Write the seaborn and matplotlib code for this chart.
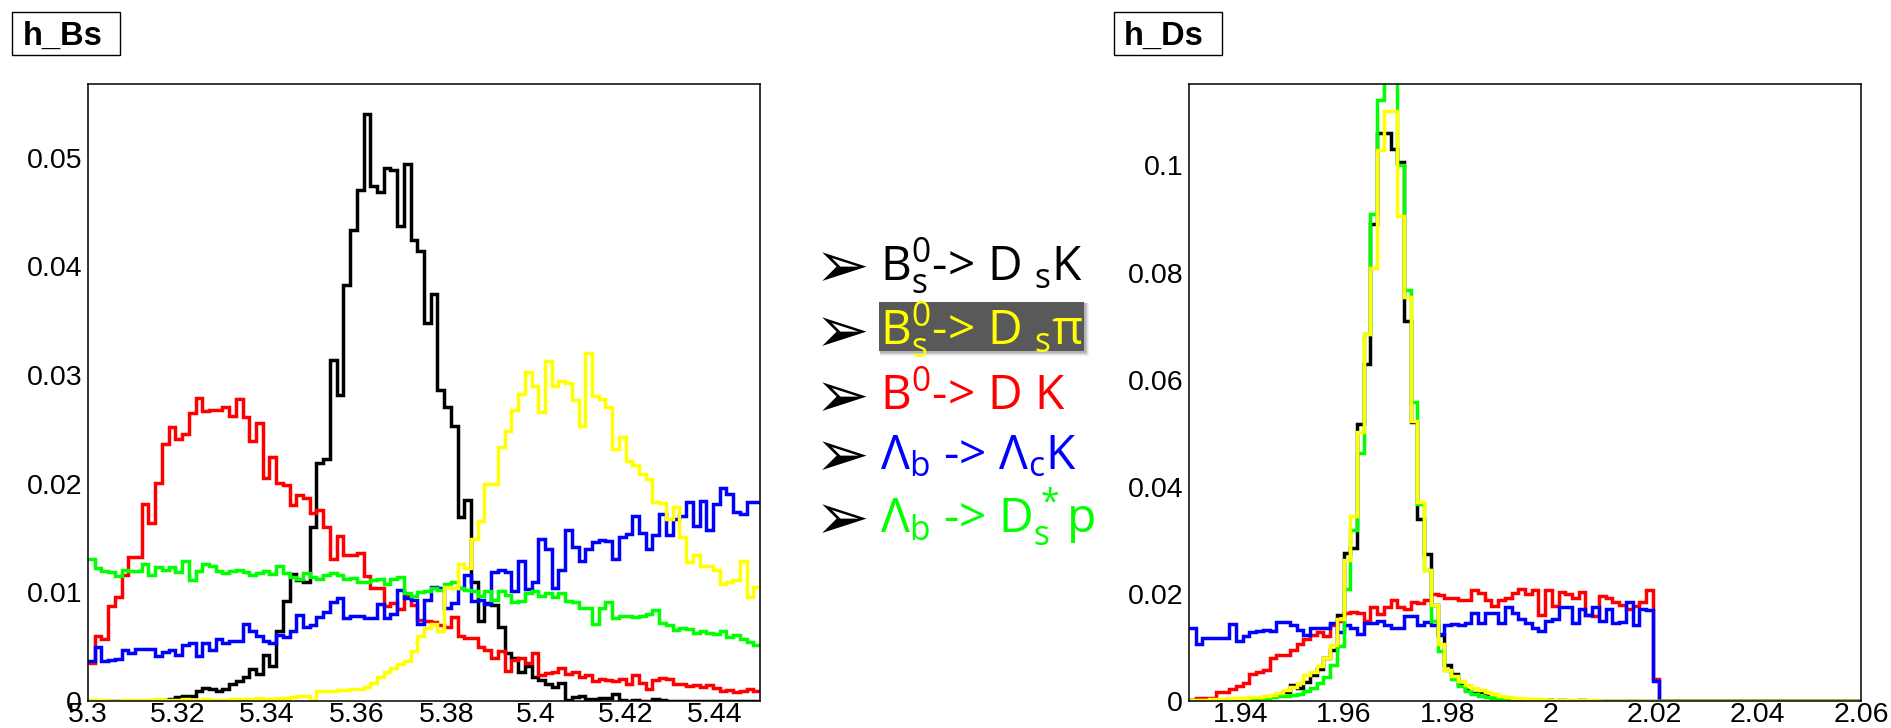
import numpy as np
import matplotlib
matplotlib.use("Agg")
import matplotlib.pyplot as plt
import seaborn as sns
from matplotlib.ticker import FixedLocator, MultipleLocator, FuncFormatter
from matplotlib.patches import Rectangle

# ---------------------------------------------------------------- data
# h_Bs : reconstructed B_s mass, 100 bins on [5.30, 5.45], unit-normalised
bs_range = (5.30, 5.45)
bs_nbins = 100

bs_dsk = [0, 0, 0, 0, 0, 0, 0, 0, 0, 0,
          0.0001, 0.0001, 0.0002, 0.0004, 0.0005, 0.0005, 0.0009, 0.0012, 0.0011, 0.0009,
          0.0011, 0.0016, 0.0018, 0.0022, 0.0029, 0.0025, 0.0042, 0.0032, 0.0064, 0.0092,
          0.0117, 0.0111, 0.0110, 0.0160, 0.0219, 0.0223, 0.0314, 0.0282, 0.0383, 0.0434,
          0.0470, 0.0540, 0.0474, 0.0469, 0.0491, 0.0489, 0.0437, 0.0494, 0.0424, 0.0414,
          0.0348, 0.0375, 0.0286, 0.0271, 0.0253, 0.0169, 0.0185, 0.0110, 0.0074, 0.0090,
          0.0088, 0.0068, 0.0044, 0.0040, 0.0027, 0.0032, 0.0022, 0.0019, 0.0016, 0.0013,
          0.0017, 0.0001, 0.0004, 0.0005, 0.0002, 0.0002, 0.0003, 0.0003, 0.0006, 0.0001,
          0, 0.0001, 0, 0, 0.0002, 0.0001, 0, 0, 0, 0,
          0, 0, 0, 0, 0, 0, 0, 0, 0, 0]

bs_dspi = [0.0001, 0.0001, 0.0001, 0, 0, 0.0001, 0.0001, 0.0001, 0.0001, 0.0001,
           0.0002, 0.0001, 0.0001, 0.0001, 0.0002, 0.0001, 0.0001, 0.0002, 0.0001, 0.0001,
           0.0001, 0.0002, 0.0002, 0.0002, 0.0002, 0.0003, 0.0002, 0.0002, 0.0003, 0.0003,
           0.0004, 0.0005, 0.0005, 0.0001, 0.0009, 0.0009, 0.0009, 0.0010, 0.0010, 0.0011,
           0.0011, 0.0013, 0.0017, 0.0022, 0.0027, 0.0030, 0.0034, 0.0037, 0.0046, 0.0060,
           0.0067, 0.0071, 0.0064, 0.0105, 0.0104, 0.0126, 0.0122, 0.0149, 0.0166, 0.0200,
           0.0200, 0.0234, 0.0249, 0.0268, 0.0283, 0.0303, 0.0290, 0.0266, 0.0313, 0.0290,
           0.0295, 0.0293, 0.0277, 0.0253, 0.0320, 0.0281, 0.0278, 0.0271, 0.0232, 0.0243,
           0.0221, 0.0217, 0.0209, 0.0204, 0.0183, 0.0182, 0.0168, 0.0179, 0.0151, 0.0128,
           0.0134, 0.0124, 0.0124, 0.0121, 0.0108, 0.0110, 0.0111, 0.0129, 0.0096, 0.0105]

bs_b0dk = [0.0035, 0.0060, 0.0057, 0.0087, 0.0096, 0.0116, 0.0133, 0.0133, 0.0181, 0.0164,
           0.0201, 0.0237, 0.0252, 0.0241, 0.0246, 0.0265, 0.0279, 0.0267, 0.0268, 0.0268,
           0.0271, 0.0262, 0.0278, 0.0261, 0.0239, 0.0256, 0.0205, 0.0225, 0.0201, 0.0199,
           0.0180, 0.0190, 0.0187, 0.0173, 0.0176, 0.0160, 0.0131, 0.0152, 0.0134, 0.0134,
           0.0136, 0.0115, 0.0104, 0.0104, 0.0087, 0.0090, 0.0085, 0.0097, 0.0088, 0.0075,
           0.0074, 0.0073, 0.0070, 0.0068, 0.0077, 0.0060, 0.0058, 0.0058, 0.0050, 0.0047,
           0.0040, 0.0046, 0.0028, 0.0038, 0.0040, 0.0035, 0.0044, 0.0024, 0.0026, 0.0027,
           0.0030, 0.0025, 0.0027, 0.0022, 0.0024, 0.0018, 0.0020, 0.0019, 0.0018, 0.0020,
           0.0016, 0.0024, 0.0017, 0.0011, 0.0019, 0.0021, 0.0020, 0.0016, 0.0016, 0.0014,
           0.0015, 0.0013, 0.0015, 0.0012, 0.0009, 0.0010, 0.0008, 0.0009, 0.0011, 0.0009]

bs_lbk = [0.0037, 0.0050, 0.0037, 0.0038, 0.0039, 0.0047, 0.0044, 0.0048, 0.0048, 0.0048,
          0.0041, 0.0045, 0.0047, 0.0042, 0.0052, 0.0053, 0.0041, 0.0053, 0.0047, 0.0057,
          0.0053, 0.0055, 0.0055, 0.0071, 0.0064, 0.0060, 0.0055, 0.0053, 0.0061, 0.0059,
          0.0064, 0.0079, 0.0068, 0.0070, 0.0077, 0.0082, 0.0091, 0.0095, 0.0076, 0.0078,
          0.0078, 0.0076, 0.0076, 0.0089, 0.0076, 0.0080, 0.0102, 0.0095, 0.0093, 0.0071,
          0.0093, 0.0105, 0.0104, 0.0086, 0.0090, 0.0104, 0.0116, 0.0092, 0.0093, 0.0089,
          0.0119, 0.0121, 0.0119, 0.0101, 0.0129, 0.0103, 0.0110, 0.0149, 0.0140, 0.0104,
          0.0121, 0.0157, 0.0142, 0.0129, 0.0140, 0.0146, 0.0148, 0.0147, 0.0131, 0.0151,
          0.0154, 0.0170, 0.0155, 0.0140, 0.0153, 0.0172, 0.0153, 0.0168, 0.0170, 0.0183,
          0.0161, 0.0184, 0.0157, 0.0181, 0.0196, 0.0191, 0.0174, 0.0172, 0.0183, 0.0183]

bs_lbdsp = [0.0131, 0.0122, 0.0120, 0.0119, 0.0115, 0.0121, 0.0120, 0.0120, 0.0126, 0.0116,
            0.0123, 0.0121, 0.0123, 0.0119, 0.0129, 0.0111, 0.0120, 0.0126, 0.0124, 0.0120,
            0.0118, 0.0120, 0.0121, 0.0119, 0.0116, 0.0118, 0.0120, 0.0117, 0.0124, 0.0118,
            0.0114, 0.0112, 0.0118, 0.0114, 0.0112, 0.0116, 0.0118, 0.0116, 0.0112, 0.0113,
            0.0110, 0.0110, 0.0111, 0.0112, 0.0108, 0.0112, 0.0114, 0.0099, 0.0097, 0.0100,
            0.0101, 0.0104, 0.0102, 0.0108, 0.0110, 0.0104, 0.0102, 0.0101, 0.0097, 0.0101,
            0.0093, 0.0101, 0.0098, 0.0091, 0.0092, 0.0099, 0.0101, 0.0097, 0.0099, 0.0096,
            0.0099, 0.0092, 0.0091, 0.0086, 0.0086, 0.0071, 0.0086, 0.0091, 0.0076, 0.0078,
            0.0078, 0.0077, 0.0078, 0.0080, 0.0084, 0.0072, 0.0070, 0.0065, 0.0067, 0.0066,
            0.0063, 0.0064, 0.0063, 0.0062, 0.0064, 0.0059, 0.0061, 0.0057, 0.0054, 0.0052]

# h_Ds : reconstructed D_s mass, 100 bins on [1.93, 2.06], unit-normalised
ds_range = (1.93, 2.06)
ds_nbins = 100

ds_dsk = [0.0001, 0.0001, 0.0001, 0.0001, 0.0001, 0.0002, 0.0002, 0.0003, 0.0004, 0.0005,
          0.0006, 0.0008, 0.0010, 0.0013, 0.0016, 0.0030, 0.0025, 0.0035, 0.0049, 0.0059,
          0.0080, 0.0095, 0.0160, 0.0276, 0.0285, 0.0517, 0.0630, 0.0890, 0.1060, 0.1060,
          0.1030, 0.1006, 0.0710, 0.0520, 0.0340, 0.0275, 0.0180, 0.0123, 0.0067, 0.0050,
          0.0030, 0.0020, 0.0015, 0.0017, 0.0010, 0.0006, 0.0004, 0.0003, 0.0002, 0.0002,
          0.0001, 0.0001, 0.0001, 0.0001, 0, 0.0001, 0, 0, 0.0001, 0,
          0, 0, 0, 0, 0, 0, 0, 0, 0, 0,
          0, 0, 0, 0, 0, 0, 0, 0, 0, 0,
          0, 0, 0, 0, 0, 0, 0, 0, 0, 0,
          0, 0, 0, 0, 0, 0, 0, 0, 0, 0]

ds_dspi = [0.0002, 0.0002, 0.0002, 0.0003, 0.0003, 0.0004, 0.0005, 0.0005, 0.0006, 0.0007,
           0.0008, 0.0010, 0.0012, 0.0015, 0.0020, 0.0026, 0.0034, 0.0049, 0.0055, 0.0065,
           0.0080, 0.0105, 0.0154, 0.0263, 0.0345, 0.0502, 0.0686, 0.0808, 0.1028, 0.1102,
           0.1102, 0.0906, 0.0754, 0.0523, 0.0371, 0.0245, 0.0180, 0.0106, 0.0058, 0.0046,
           0.0037, 0.0030, 0.0024, 0.0020, 0.0016, 0.0013, 0.0010, 0.0008, 0.0006, 0.0005,
           0.0004, 0.0003, 0.0003, 0.0002, 0.0002, 0.0002, 0.0001, 0.0001, 0.0001, 0.0001,
           0.0001, 0, 0, 0, 0, 0, 0, 0, 0, 0,
           0, 0, 0, 0, 0, 0, 0, 0, 0, 0,
           0, 0, 0, 0, 0, 0, 0, 0, 0, 0,
           0, 0, 0, 0, 0, 0, 0, 0, 0, 0]

ds_b0dk = [0.0002, 0.0006, 0.0005, 0.0005, 0.0017, 0.0017, 0.0022, 0.0028, 0.0034, 0.0050,
           0.0054, 0.0058, 0.0080, 0.0086, 0.0086, 0.0095, 0.0106, 0.0115, 0.0123, 0.0128,
           0.0121, 0.0141, 0.0150, 0.0164, 0.0167, 0.0165, 0.0150, 0.0176, 0.0163, 0.0176,
           0.0189, 0.0176, 0.0171, 0.0184, 0.0183, 0.0189, 0.0199, 0.0197, 0.0193, 0.0193,
           0.0189, 0.0189, 0.0208, 0.0202, 0.0189, 0.0178, 0.0189, 0.0193, 0.0202, 0.0210,
           0.0199, 0.0208, 0.0161, 0.0208, 0.0178, 0.0204, 0.0199, 0.0193, 0.0204, 0.0161,
           0.0158, 0.0196, 0.0193, 0.0184, 0.0180, 0.0171, 0.0178, 0.0184, 0.0208, 0.0041,
           0, 0, 0, 0, 0, 0, 0, 0, 0, 0,
           0, 0, 0, 0, 0, 0, 0, 0, 0, 0,
           0, 0, 0, 0, 0, 0, 0, 0, 0, 0]

ds_lbk = [0.0137, 0.0106, 0.0117, 0.0117, 0.0117, 0.0117, 0.0143, 0.0112, 0.0122, 0.0128,
          0.0130, 0.0132, 0.0130, 0.0147, 0.0147, 0.0141, 0.0132, 0.0123, 0.0137, 0.0137,
          0.0137, 0.0145, 0.0128, 0.0141, 0.0137, 0.0126, 0.0145, 0.0145, 0.0150, 0.0141,
          0.0137, 0.0137, 0.0158, 0.0158, 0.0141, 0.0147, 0.0141, 0.0126, 0.0141, 0.0143,
          0.0141, 0.0145, 0.0164, 0.0145, 0.0164, 0.0164, 0.0145, 0.0176, 0.0164, 0.0154,
          0.0145, 0.0137, 0.0130, 0.0150, 0.0154, 0.0176, 0.0176, 0.0145, 0.0171, 0.0160,
          0.0176, 0.0150, 0.0171, 0.0145, 0.0147, 0.0184, 0.0141, 0.0171, 0.0170, 0.0037,
          0, 0, 0, 0, 0, 0, 0, 0, 0, 0,
          0, 0, 0, 0, 0, 0, 0, 0, 0, 0,
          0, 0, 0, 0, 0, 0, 0, 0, 0, 0]

ds_lbdsp = [0.0001, 0.0001, 0.0001, 0.0001, 0.0002, 0.0002, 0.0002, 0.0003, 0.0003, 0.0004,
            0.0005, 0.0006, 0.0008, 0.0009, 0.0010, 0.0012, 0.0014, 0.0019, 0.0025, 0.0034,
            0.0045, 0.0067, 0.0102, 0.0210, 0.0320, 0.0463, 0.0686, 0.0910, 0.1123, 0.1300,
            0.1250, 0.1000, 0.0767, 0.0558, 0.0367, 0.0245, 0.0150, 0.0093, 0.0058, 0.0041,
            0.0028, 0.0019, 0.0013, 0.0010, 0.0008, 0.0006, 0.0004, 0.0003, 0.0002, 0.0002,
            0.0001, 0.0001, 0.0001, 0.0001, 0, 0, 0, 0, 0, 0,
            0, 0, 0, 0, 0, 0, 0, 0, 0, 0,
            0, 0, 0, 0, 0, 0, 0, 0, 0, 0,
            0, 0, 0, 0, 0, 0, 0, 0, 0, 0,
            0, 0, 0, 0, 0, 0, 0, 0, 0, 0]

# ---------------------------------------------------------------- style
sns.set_style("white")
plt.rcParams["font.family"] = ["Liberation Sans", "DejaVu Sans"]
plt.rcParams["mathtext.fontset"] = "custom"
plt.rcParams["mathtext.rm"] = "Open Sans"
plt.rcParams["mathtext.it"] = "Open Sans"
plt.rcParams["mathtext.bf"] = "Open Sans:bold"
plt.rcParams["mathtext.sf"] = "Open Sans"

W, H = 1891, 728
fig = plt.figure(figsize=(W / 100, H / 100), dpi=100)
fig.patch.set_facecolor("white")


def fx(px):
    return px / W


def fy(py):
    return 1 - py / H


# drawing order: later series sit on top
channels = [
    ("black", bs_dsk, ds_dsk),
    ("#ff0000", bs_b0dk, ds_b0dk),
    ("#0000ff", bs_lbk, ds_lbk),
    ("#00ff00", bs_lbdsp, ds_lbdsp),
    ("#ffff00", bs_dspi, ds_dspi),
]

ax_bs = fig.add_axes([fx(88), fy(701), (760 - 88) / W, (701 - 84) / H])
ax_ds = fig.add_axes([fx(1189), fy(701), (1861 - 1189) / W, (701 - 84) / H])

bs_edges = np.linspace(bs_range[0], bs_range[1], bs_nbins + 1)
ds_edges = np.linspace(ds_range[0], ds_range[1], ds_nbins + 1)
bs_centers = 0.5 * (bs_edges[:-1] + bs_edges[1:])
ds_centers = 0.5 * (ds_edges[:-1] + ds_edges[1:])

for color, bs_vals, ds_vals in channels:
    sns.histplot(x=bs_centers, weights=np.asarray(bs_vals), bins=list(bs_edges),
                 element="step", fill=False, color=color, linewidth=2.5, ax=ax_bs,
                 solid_joinstyle="miter")
    sns.histplot(x=ds_centers, weights=np.asarray(ds_vals), bins=list(ds_edges),
                 element="step", fill=False, color=color, linewidth=2.5, ax=ax_ds,
                 solid_joinstyle="miter")

fmt = FuncFormatter(lambda v, pos: "%g" % round(v, 4))


def frame(ax, xlim, ylim, xmajor, xminor, ymajor, yminor):
    ax.set_xlim(*xlim)
    ax.set_ylim(*ylim)
    ax.set_xlabel("")
    ax.set_ylabel("")
    ax.xaxis.set_major_locator(FixedLocator(xmajor))
    ax.xaxis.set_minor_locator(MultipleLocator(xminor))
    ax.yaxis.set_major_locator(MultipleLocator(ymajor))
    ax.yaxis.set_minor_locator(MultipleLocator(yminor))
    ax.xaxis.set_major_formatter(fmt)
    ax.yaxis.set_major_formatter(fmt)
    ax.tick_params(which="both", direction="in", top=False, right=False,
                   width=1.0, color="black", labelsize=20.5, labelcolor="black")
    ax.tick_params(which="major", length=14)
    ax.tick_params(which="minor", length=7)
    ax.tick_params(axis="x", pad=0.5)
    ax.tick_params(axis="y", pad=4.3)
    for s in ax.spines.values():
        s.set_visible(True)
        s.set_color("black")
        s.set_linewidth(1.1)
    ax.set_facecolor("white")


frame(ax_bs, bs_range, (0, 0.0568),
      [5.30, 5.32, 5.34, 5.36, 5.38, 5.40, 5.42, 5.44], 0.005, 0.01, 0.002)
frame(ax_ds, ds_range, (0, 0.1152),
      [1.94, 1.96, 1.98, 2.00, 2.02, 2.04, 2.06], 0.005, 0.02, 0.005)

# histogram name boxes
for (x0, x1, tx, name) in [(12, 120, 23, "h_Bs"), (1114, 1222, 1124, "h_Ds")]:
    fig.patches.append(Rectangle((fx(x0), fy(55)), (x1 - x0) / W, (55 - 12) / H,
                                 transform=fig.transFigure, facecolor="white",
                                 edgecolor="black", linewidth=1.0))
    fig.text(fx(tx), fy(45), name, fontsize=23.5, fontweight="bold",
             family=["Liberation Sans"], va="baseline", ha="left", color="black")

# decay-channel key
rows = [
    (280, "B$^0_s$-> D $_s$K", "black"),
    (345, "B$^0_s$-> D $_s$\u03c0", "#ffff00"),
    (410, "B$^0$-> D K", "#ff0000"),
    (469, "\u039b$_b$ -> \u039b$_c$K", "#0000ff"),
    (532, "\u039b$_b$ -> D$^*_s$p", "#00ff00"),
]

# dark highlight behind the B_s -> D_s pi line, with a soft shadow
for k, a in enumerate([0.05, 0.07, 0.09, 0.12]):
    off = 4 - k
    fig.patches.append(Rectangle((fx(879 + 1), fy(351 + off + 1)), (205 + off) / W,
                                 (49 + off) / H, transform=fig.transFigure,
                                 facecolor="black", edgecolor="none", alpha=a))
fig.patches.append(Rectangle((fx(879), fy(351)), 205 / W, 49 / H,
                             transform=fig.transFigure, facecolor="#595959",
                             edgecolor="none"))

for y, label, color in rows:
    fig.text(fx(815), fy(y + 7), "\u27a2", fontsize=47, color="black",
             family=["DejaVu Sans"], va="baseline", ha="left")
    fig.text(fx(880), fy(y), label, fontsize=34.5, color=color,
             family=["Open Sans", "DejaVu Sans"], va="baseline", ha="left")

fig.savefig("out.png", dpi=100, facecolor="white")
